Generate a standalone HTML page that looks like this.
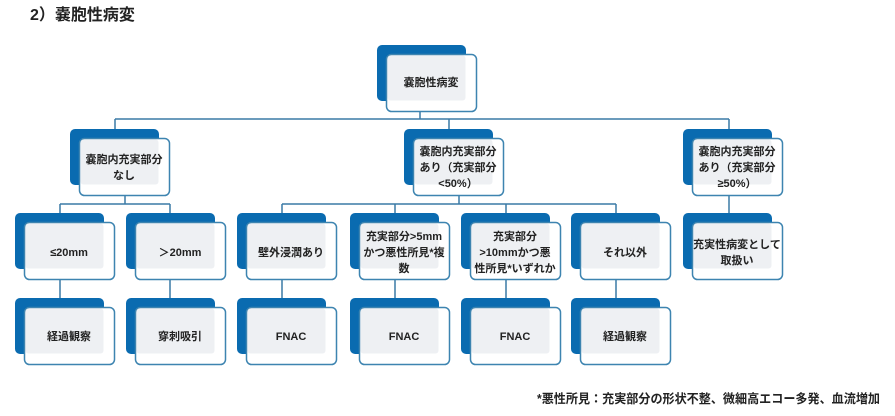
<!DOCTYPE html>
<html><head><meta charset="utf-8"><style>
html,body{margin:0;padding:0;background:#fff;width:895px;height:416px;overflow:hidden}
svg{display:block}
text{font-family:"Liberation Sans","Noto Sans CJK JP",sans-serif;font-weight:bold;fill:#222}
</style></head><body>
<svg width="895" height="416" viewBox="0 0 895 416" xmlns="http://www.w3.org/2000/svg">
<defs>
<g id="bx">
<rect x="0" y="0" width="89" height="56" rx="5" fill="#0a6bb0"/>
<rect x="9.5" y="9.5" width="90" height="57" rx="5" fill="#fff" stroke="#3d84b0" stroke-width="1.5"/>
<rect x="10.5" y="10.5" width="78" height="45" rx="3" fill="#eef0f3"/>
</g>
</defs>
<text x="30" y="20" font-size="16" style="fill:#222">2）嚢胞性病変</text>
<g stroke="#3a7aa6" stroke-width="1.5" fill="none">
<path d="M420 111V119M115 119H729M115 119V129M449 119V129M729 119V129"/>
<path d="M125 196V204M60 204H170M60 204V213M170 204V213"/>
<path d="M459 196V204M282 204H616M282 204V213M395 204V213M506 204V213M616 204V213"/>
<path d="M729 196V213"/>
<path d="M60 280V298M170 280V298M282 280V298M395 280V298M506 280V298M616 280V298"/>
</g>
<use href="#bx" x="377" y="45"/>
<use href="#bx" x="70" y="129"/>
<use href="#bx" x="404" y="129"/>
<use href="#bx" x="683" y="129"/>
<use href="#bx" x="15" y="213"/>
<use href="#bx" x="126" y="213"/>
<use href="#bx" x="237" y="213"/>
<use href="#bx" x="350" y="213"/>
<use href="#bx" x="461" y="213"/>
<use href="#bx" x="571" y="213"/>
<use href="#bx" x="683" y="213"/>
<use href="#bx" x="15" y="298"/>
<use href="#bx" x="126" y="298"/>
<use href="#bx" x="237" y="298"/>
<use href="#bx" x="350" y="298"/>
<use href="#bx" x="461" y="298"/>
<use href="#bx" x="571" y="298"/>
<g font-size="11" text-anchor="middle">
<text x="431" y="86">嚢胞性病変</text>
<text x="124" y="163">嚢胞内充実部分</text>
<text x="124" y="179">なし</text>
<text x="458" y="155">嚢胞内充実部分</text>
<text x="458" y="171">あり（充実部分</text>
<text x="458" y="187">&lt;50%）</text>
<text x="737" y="155">嚢胞内充実部分</text>
<text x="737" y="171">あり（充実部分</text>
<text x="737" y="187">≥50%）</text>
<text x="69" y="256">≤20mm</text>
<text x="180" y="256">＞20mm</text>
<text x="291" y="256">壁外浸潤あり</text>
<text x="404" y="240">充実部分&gt;5mm</text>
<text x="404" y="256">かつ悪性所見*複</text>
<text x="404" y="272">数</text>
<text x="515" y="240">充実部分</text>
<text x="515" y="256">&gt;10mmかつ悪</text>
<text x="515" y="272">性所見*いずれか</text>
<text x="625" y="256">それ以外</text>
<text x="737" y="248">充実性病変として</text>
<text x="737" y="264">取扱い</text>
<text x="69" y="340">経過観察</text>
<text x="180" y="340">穿刺吸引</text>
<text x="291" y="340">FNAC</text>
<text x="404" y="340">FNAC</text>
<text x="515" y="340">FNAC</text>
<text x="625" y="340">経過観察</text>
</g>
<text x="537" y="403" font-size="12.5" textLength="343" lengthAdjust="spacingAndGlyphs">*悪性所見：充実部分の形状不整、微細高エコー多発、血流増加</text>
</svg>
</body></html>
